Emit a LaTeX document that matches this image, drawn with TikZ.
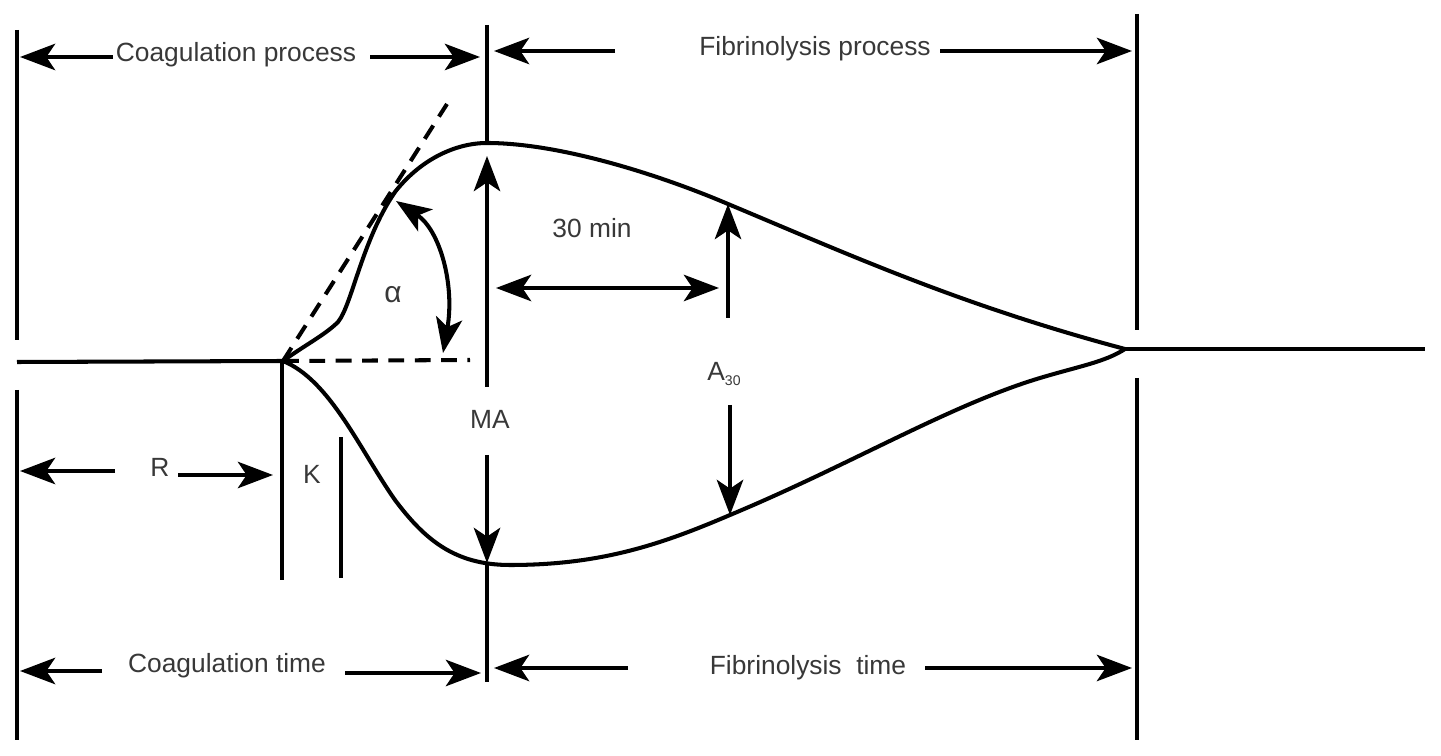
\documentclass[tikz,border=0pt]{standalone}
\usepackage{fontspec}
\setmainfont{Liberation Sans}
\usetikzlibrary{arrows.meta}
\definecolor{txt}{HTML}{383838}
\tikzset{
  ln/.style={line width=2.3pt, black},
  arr/.style={line width=2.3pt, -{Stealth[length=20pt,width=15pt,inset=5pt]}},
  dbl/.style={line width=2.3pt, {Stealth[length=20pt,width=15pt,inset=5pt]}-{Stealth[length=20pt,width=15pt,inset=5pt]}},
  dsh/.style={line width=2.3pt, dash pattern=on 9pt off 6pt},
  lbl/.style={text=txt, font=\fontsize{15}{17}\selectfont, inner sep=1pt}
}
\begin{document}
\begin{tikzpicture}[x=0.02cm,y=-0.02cm]
\useasboundingbox (0,0) rectangle (1441,756);
% coordinates
\coordinate (L1) at (17,30);   \coordinate (L2) at (17,340);
\coordinate (L3) at (17,390);  \coordinate (L4) at (17,740);
\coordinate (M1) at (487,25);  \coordinate (M2) at (487,143);
\coordinate (M3) at (487,565); \coordinate (M4) at (487,682);
\coordinate (E1) at (1137,14); \coordinate (E2) at (1137,330);
\coordinate (E3) at (1137,378);\coordinate (E4) at (1137,740);
\coordinate (S) at (283,361);
\coordinate (B0) at (17,362);
\coordinate (T) at (1125,349);
\coordinate (Tend) at (1425,349);
\coordinate (R1) at (282,362); \coordinate (R2) at (282,580);
\coordinate (K1) at (341,437); \coordinate (K2) at (341,578);
% vertical lines
\draw[ln] (L1) -- (L2);
\draw[ln] (L3) -- (L4);
\draw[ln] (M1) -- (M2);
\draw[ln] (M3) -- (M4);
\draw[ln] (E1) -- (E2);
\draw[ln] (E3) -- (E4);
\draw[ln] (R1) -- (R2);
\draw[ln] (K1) -- (K2);
% baselines
\draw[ln] (B0) -- (S);
\draw[ln] (T) -- (Tend);
% upper curve
\draw[ln, line join=round] (S) .. controls (305,345) and (325,335) .. (338,322)
  .. controls (352,305) and (362,240) .. (395,192)
  .. controls (420,160) and (455,143) .. (487,143)
  .. controls (560,143) and (660,175) .. (728,204)
  .. controls (850,255) and (960,305) .. (T);
% lower curve
\draw[ln] (S) .. controls (330,380) and (360,450) .. (395,500)
  .. controls (425,540) and (455,565) .. (510,565)
  .. controls (600,565) and (660,545) .. (730,515)
  .. controls (850,465) and (950,405) .. (1040,378)
  .. controls (1080,366) and (1105,362) .. (T);
% dashed lines
\coordinate (D1) at (447,104);
\coordinate (D2) at (470,360);
\draw[dsh] (S) -- (D1);
\draw[dsh] (S) -- (D2);
% top labels
\node[lbl] (cp) at (236,55) {Coagulation process};
\node[lbl] (fp) at (815,49) {Fibrinolysis process};
\coordinate (cpL) at (20,57);  \coordinate (cpLs) at (113,57);
\coordinate (cpR) at (480,57); \coordinate (cpRs) at (370,57);
\draw[arr] (cpLs) -- (cpL);
\draw[arr] (cpRs) -- (cpR);
\coordinate (fpL) at (494,51);  \coordinate (fpLs) at (615,51);
\coordinate (fpR) at (1132,51); \coordinate (fpRs) at (940,51);
\draw[arr] (fpLs) -- (fpL);
\draw[arr] (fpRs) -- (fpR);
% bottom labels
\node[lbl] (ct) at (227,666) {Coagulation time};
\node[lbl] (ft) at (808,668) {Fibrinolysis\ \ time};
\coordinate (ctL) at (20,671);  \coordinate (ctLs) at (102,671);
\coordinate (ctR) at (481,673); \coordinate (ctRs) at (345,673);
\draw[arr] (ctLs) -- (ctL);
\draw[arr] (ctRs) -- (ctR);
\coordinate (ftL) at (494,668);  \coordinate (ftLs) at (628,668);
\coordinate (ftR) at (1132,668); \coordinate (ftRs) at (925,668);
\draw[arr] (ftLs) -- (ftL);
\draw[arr] (ftRs) -- (ftR);
% R
\node[lbl] (R) at (160,467) {R};
\coordinate (rL) at (20,471); \coordinate (rLs) at (115,471);
\coordinate (rR) at (273,475); \coordinate (rRs) at (178,475);
\draw[arr] (rLs) -- (rL);
\draw[arr] (rRs) -- (rR);
% K
\node[lbl] (K) at (312,474) {K};
% MA
\node[lbl] (MA) at (490,419) {MA};
\coordinate (maU) at (487,156); \coordinate (maUs) at (487,387);
\coordinate (maD) at (487,563); \coordinate (maDs) at (487,455);
\draw[arr] (maUs) -- (maU);
\draw[arr] (maDs) -- (maD);
% 30 min
\node[lbl] (min) at (592,228) {30 min};
\coordinate (mL) at (496,288); \coordinate (mR) at (719,288);
\draw[dbl] (mL) -- (mR);
% A30
\node[lbl] (A) at (724,374) {A\raisebox{-0.35ex}{\fontsize{8}{9}\selectfont 30}};
\coordinate (aU) at (728,204); \coordinate (aUs) at (728,318);
\coordinate (aD) at (730,515); \coordinate (aDs) at (730,405);
\draw[arr] (aUs) -- (aU);
\draw[arr] (aDs) -- (aD);
% alpha
\node[text=txt, font=\fontsize{17}{19}\selectfont, inner sep=1pt] (alpha) at (393,295) {α};
\coordinate (al1) at (396,201); \coordinate (al2) at (443,353);
\draw[dbl] (al1) .. controls (440,230) and (455,285) .. (al2);
\end{tikzpicture}
\end{document}
